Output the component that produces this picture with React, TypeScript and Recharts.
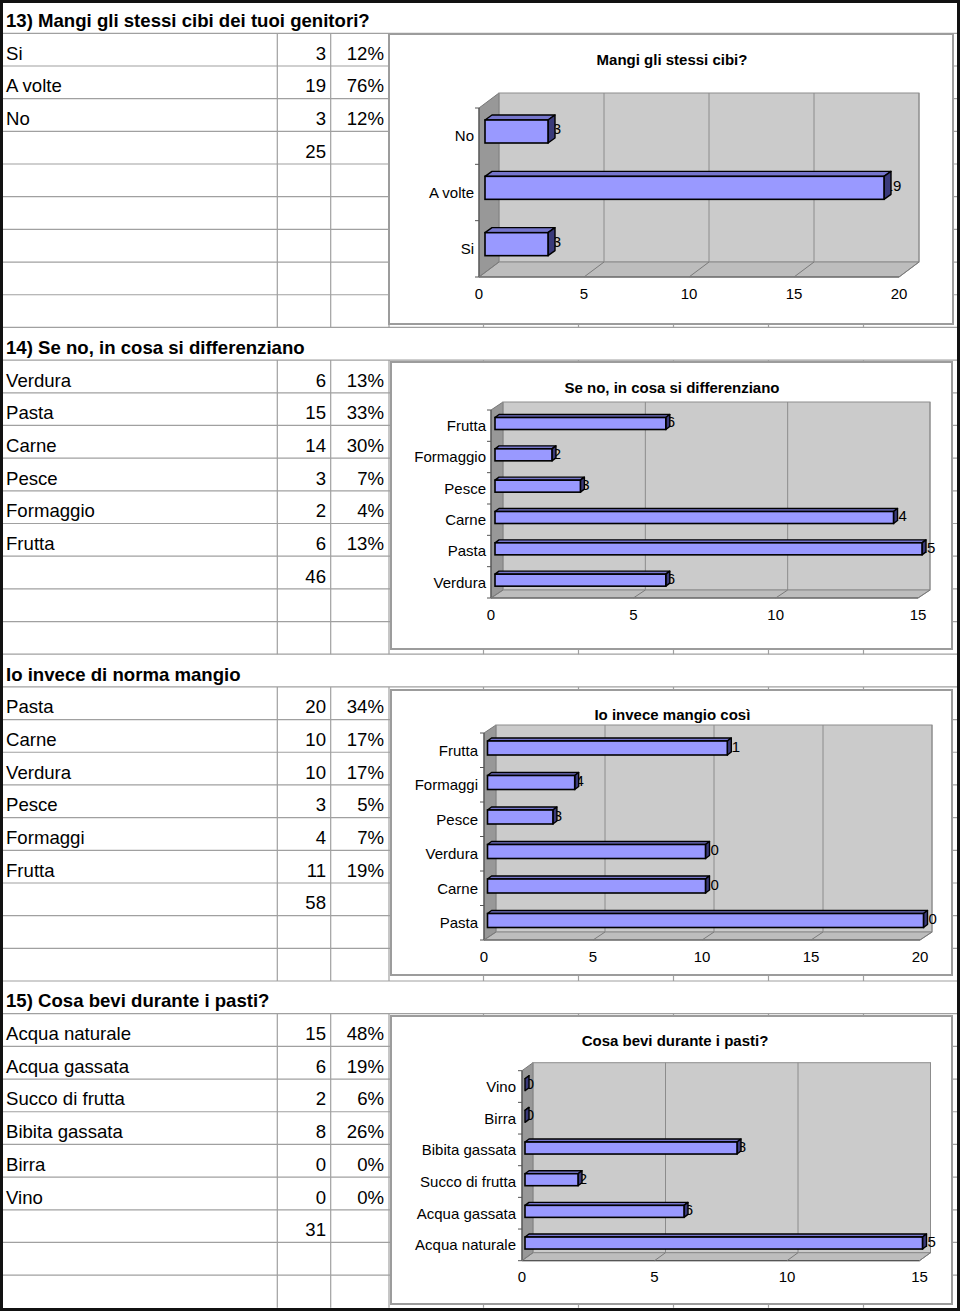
import React from 'react';
import { BarChart, Bar, XAxis, YAxis, ReferenceArea, ReferenceLine } from 'recharts';

const FONT = '"Liberation Sans", Arial, Helvetica, sans-serif';

// ---------- data ----------
const q13Title = '13) Mangi gli stessi cibi dei tuoi genitori?';
const q13Chart = 'Mangi gli stessi cibi?';
const q13Labels = ['Si', 'A volte', 'No'];
const q13Counts = [3, 19, 3];
const q13Pcts = ['12%', '76%', '12%'];
const q13Total = 25;
const q13Ticks = [0, 5, 10, 15, 20];

const q14Title = '14) Se no, in cosa si differenziano';
const q14Chart = 'Se no, in cosa si differenziano';
const q14Labels = ['Verdura', 'Pasta', 'Carne', 'Pesce', 'Formaggio', 'Frutta'];
const q14Counts = [6, 15, 14, 3, 2, 6];
const q14Pcts = ['13%', '33%', '30%', '7%', '4%', '13%'];
const q14Total = 46;
const q14Ticks = [0, 5, 10, 15];

const ioTitle = 'Io invece di norma mangio';
const ioChart = 'Io invece mangio così';
const ioLabels = ['Pasta', 'Carne', 'Verdura', 'Pesce', 'Formaggi', 'Frutta'];
const ioCounts = [20, 10, 10, 3, 4, 11];
const ioPcts = ['34%', '17%', '17%', '5%', '7%', '19%'];
const ioTotal = 58;
const ioTicks = [0, 5, 10, 15, 20];

const q15Title = '15) Cosa bevi durante i pasti?';
const q15Chart = 'Cosa bevi durante i pasti?';
const q15Labels = ['Acqua naturale', 'Acqua gassata', 'Succo di frutta', 'Bibita gassata', 'Birra', 'Vino'];
const q15Counts = [15, 6, 2, 8, 0, 0];
const q15Pcts = ['48%', '19%', '6%', '26%', '0%', '0%'];
const q15Total = 31;
const q15Ticks = [0, 5, 10, 15];

// ---------- layout ----------
const ROW0 = 33.3;
const RH = 32.68;
const rowBottom = (i: number) => ROW0 + i * RH;
const COL_X = [277.3, 330.7, 389, 483.5, 578.5, 673.5, 768.5, 863.5];
const TABLE_FS = 18.6;

type Cfg = {
  title: string;
  labels: string[];
  counts: number[];
  pcts: string[];
  total: number;
  ticks: number[];
  startRow: number;
  frame: { x: number; y: number; w: number; h: number };
  plot: { x0: number; y0: number; x1: number; y1: number };
  wall: { dx: number; dy: number };
  bar: { ox: number; oy: number; dx: number; dy: number; size: number; lx: number };
  titlePos: { x: number; y: number };
  chartTitle: string;
  yMargin: number;
};

const sections: Cfg[] = [
  {
    title: q13Title, chartTitle: q13Chart, labels: q13Labels, counts: q13Counts, pcts: q13Pcts, total: q13Total, ticks: q13Ticks,
    startRow: 0,
    frame: { x: 388, y: 33, w: 566, h: 292 },
    plot: { x0: 479, y0: 108, x1: 899, y1: 277 },
    wall: { dx: 20, dy: 15 },
    bar: { ox: 6, oy: -5, dx: 7, dy: 5, size: 23, lx: 9 },
    titlePos: { x: 672, y: 59.3 },
    yMargin: 5,
  },
  {
    title: q14Title, chartTitle: q14Chart, labels: q14Labels, counts: q14Counts, pcts: q14Pcts, total: q14Total, ticks: q14Ticks,
    startRow: 10,
    frame: { x: 390, y: 361, w: 563, h: 289 },
    plot: { x0: 491, y0: 410, x1: 918, y1: 598 },
    wall: { dx: 12, dy: 8 },
    bar: { ox: 4, oy: -2.5, dx: 4, dy: 3, size: 12, lx: 5 },
    titlePos: { x: 672, y: 387.3 },
    yMargin: 5,
  },
  {
    title: ioTitle, chartTitle: ioChart, labels: ioLabels, counts: ioCounts, pcts: ioPcts, total: ioTotal, ticks: ioTicks,
    startRow: 20,
    frame: { x: 390, y: 689, w: 563, h: 287 },
    plot: { x0: 484, y0: 733, x1: 920, y1: 940 },
    wall: { dx: 12, dy: 8 },
    bar: { ox: 3.5, oy: -2, dx: 4, dy: 3, size: 14, lx: 5 },
    titlePos: { x: 672.4, y: 714.3 },
    yMargin: 6,
  },
  {
    title: q15Title, chartTitle: q15Chart, labels: q15Labels, counts: q15Counts, pcts: q15Pcts, total: q15Total, ticks: q15Ticks,
    startRow: 30,
    frame: { x: 390, y: 1015, w: 563, h: 290 },
    plot: { x0: 522, y0: 1070.7, x1: 919.5, y1: 1260.7 },
    wall: { dx: 11, dy: 8 },
    bar: { ox: 3, oy: -2, dx: 4, dy: 3, size: 12, lx: 5 },
    titlePos: { x: 675, y: 1040.7 },
    yMargin: 6,
  },
];

// ---------- shapes ----------
const makeWalls = (cfg: Cfg) => (p: any) => {
  const { x, y, width, height } = p;
  const { dx, dy } = cfg.wall;
  const x0 = x, x1 = x + width, y0 = y, y1 = y + height;
  const n = cfg.labels.length;
  const ticks = [];
  for (let i = 0; i <= n; i++) {
    const ty = y0 + (height * i) / n;
    ticks.push(<line key={i} x1={x0 - 4} y1={ty} x2={x0} y2={ty} stroke="#555" strokeWidth={1} />);
  }
  return (
    <g>
      <polygon
        points={`${x0},${y0} ${x0 + dx},${y0 - dy} ${x0 + dx},${y1 - dy} ${x0},${y1}`}
        fill="#989898" stroke="#777" strokeWidth={1}
      />
      <rect x={x0 + dx} y={y0 - dy} width={width} height={height} fill="#cbcbcb" stroke="#8e8e8e" strokeWidth={1} />
      <polygon
        points={`${x0},${y1} ${x0 + dx},${y1 - dy} ${x1 + dx},${y1 - dy} ${x1},${y1}`}
        fill="#bdbdbd" stroke="#8a8a8a" strokeWidth={1}
      />
      <line x1={x0} y1={y0} x2={x0} y2={y1} stroke="#555" strokeWidth={1.2} />
      <line x1={x0} y1={y1} x2={x1} y2={y1} stroke="#555" strokeWidth={1.2} />
      {ticks}
    </g>
  );
};

const makeGrid = (cfg: Cfg) => (p: any) => {
  const { x1, y1, y2 } = p;
  const { dx, dy } = cfg.wall;
  const yt = Math.min(y1, y2);
  const yb = Math.max(y1, y2);
  return (
    <g>
      <line x1={x1 + dx} y1={yt - dy} x2={x1 + dx} y2={yb - dy} stroke="#8c8c8c" strokeWidth={1} />
      <line x1={x1} y1={yb} x2={x1 + dx} y2={yb - dy} stroke="#7a7a7a" strokeWidth={1} />
    </g>
  );
};

const makeBar = (cfg: Cfg) => (p: any) => {
  const { x, y, width, height, payload } = p;
  const { ox, oy, dx, dy, lx } = cfg.bar;
  const X = x + ox;
  const Y = y + oy;
  const W = Math.max(width || 0, 0);
  const H = height;
  const xe = X + W;
  const labelY = Y + H / 2 - dy / 2 + 5.4;
  return (
    <g>
      <text x={xe + lx} y={labelY} fontSize={15} fill="#000" fontFamily={FONT} textAnchor="middle">
        {payload.value}
      </text>
      <polygon
        points={`${X},${Y} ${X + dx},${Y - dy} ${xe + dx},${Y - dy} ${xe},${Y}`}
        fill="#7676cc" stroke="#000" strokeWidth={1.4} strokeLinejoin="round"
      />
      <polygon
        points={`${xe},${Y} ${xe + dx},${Y - dy} ${xe + dx},${Y + H - dy} ${xe},${Y + H}`}
        fill="#3a3a7a" stroke="#000" strokeWidth={1.4} strokeLinejoin="round"
      />
      <rect x={X} y={Y} width={W} height={H} fill="#9999ff" stroke="#000" strokeWidth={1.6} />
    </g>
  );
};

function Chart3D({ cfg }: { cfg: Cfg }) {
  const data = cfg.labels.map((name, i) => ({ name, value: cfg.counts[i] }));
  const max = cfg.ticks[cfg.ticks.length - 1];
  const { frame, plot } = cfg;
  const XH = 30;
  const margin = {
    top: plot.y0 - frame.y,
    right: frame.x + frame.w - plot.x1,
    bottom: frame.y + frame.h - plot.y1 - XH,
    left: 0,
  };
  return (
    <>
      <div
        style={{
          position: 'absolute', left: frame.x, top: frame.y, width: frame.w, height: frame.h,
          background: '#fff', border: '2px solid #9c9c9c', boxSizing: 'border-box',
        }}
      >
        <div style={{ position: 'absolute', left: -2, top: -2 }}>
          <BarChart width={frame.w} height={frame.h} data={data} layout="vertical" margin={margin} barSize={cfg.bar.size}>
            <XAxis
              type="number" domain={[0, max]} ticks={cfg.ticks} interval={0} height={XH}
              tickSize={0} tickMargin={11} axisLine={false} tickLine={false}
              tick={{ fontSize: 15, fill: '#000' }}
            />
            <YAxis
              type="category" dataKey="name" reversed interval={0} width={plot.x0 - frame.x}
              tickSize={0} tickMargin={cfg.yMargin} axisLine={false} tickLine={false}
              tick={{ fontSize: 15, fill: '#000' }}
            />
            <ReferenceArea x1={0} x2={max} ifOverflow="visible" shape={makeWalls(cfg)} zIndex={100} />
            {cfg.ticks.map((t) => (
              <ReferenceLine key={t} x={t} ifOverflow="visible" shape={makeGrid(cfg)} zIndex={150} />
            ))}
            <Bar dataKey="value" isAnimationActive={false} shape={makeBar(cfg)} />
          </BarChart>
        </div>
      </div>
      <div
        style={{
          position: 'absolute', left: cfg.titlePos.x - 200, width: 400, top: cfg.titlePos.y - 7.3,
          textAlign: 'center', fontSize: 15, lineHeight: '15px', fontWeight: 'bold', whiteSpace: 'nowrap',
        }}
      >
        {cfg.chartTitle}
      </div>
    </>
  );
}

function TableText({ cfg }: { cfg: Cfg }) {
  const r = cfg.startRow;
  const textTop = (i: number) => rowBottom(i) - 5.5 - TABLE_FS * 0.8465;
  const base: React.CSSProperties = {
    position: 'absolute', fontSize: TABLE_FS, lineHeight: `${TABLE_FS}px`, whiteSpace: 'nowrap',
  };
  const items: React.ReactNode[] = [];
  items.push(
    <div key="h" style={{ ...base, left: 6, top: textTop(r), fontWeight: 'bold' }}>{cfg.title}</div>
  );
  cfg.labels.forEach((lab, k) => {
    const i = r + 1 + k;
    items.push(<div key={`l${k}`} style={{ ...base, left: 6, top: textTop(i) }}>{lab}</div>);
    items.push(
      <div key={`c${k}`} style={{ ...base, left: 270, width: 56, textAlign: 'right', top: textTop(i) }}>{cfg.counts[k]}</div>
    );
    items.push(
      <div key={`p${k}`} style={{ ...base, left: 331, width: 53, textAlign: 'right', top: textTop(i) }}>{cfg.pcts[k]}</div>
    );
  });
  const ti = r + 1 + cfg.labels.length;
  items.push(
    <div key="t" style={{ ...base, left: 270, width: 56, textAlign: 'right', top: textTop(ti) }}>{cfg.total}</div>
  );
  return <>{items}</>;
}

function Grid() {
  const lines: React.ReactNode[] = [];
  for (let i = 0; i < 39; i++) {
    const y = rowBottom(i);
    lines.push(<line key={`h${i}`} x1={3} y1={y} x2={957} y2={y} stroke="#a0a0a0" strokeWidth={1.2} />);
  }
  sections.forEach((s, si) => {
    const yTop = rowBottom(s.startRow);
    const yBot = rowBottom(s.startRow + 9);
    COL_X.forEach((x, ci) => {
      lines.push(<line key={`v${si}-${ci}`} x1={x} y1={yTop} x2={x} y2={yBot} stroke="#a0a0a0" strokeWidth={1.2} />);
    });
  });
  return (
    <svg width={960} height={1314} style={{ position: 'absolute', left: 0, top: 0 }}>
      {lines}
    </svg>
  );
}

export default function App() {
  return (
    <div
      style={{
        position: 'absolute', left: 0, top: 0, width: 960, height: 1314, background: '#fff',
        fontFamily: FONT, color: '#000', overflow: 'hidden',
      }}
    >
      <Grid />
      {sections.map((s, i) => (
        <TableText key={`t${i}`} cfg={s} />
      ))}
      {sections.map((s, i) => (
        <Chart3D key={`c${i}`} cfg={s} />
      ))}
      <div
        style={{
          position: 'absolute', left: 0, top: 0, width: 960, height: 1311,
          border: '3px solid #111', boxSizing: 'border-box', pointerEvents: 'none',
        }}
      />
    </div>
  );
}
